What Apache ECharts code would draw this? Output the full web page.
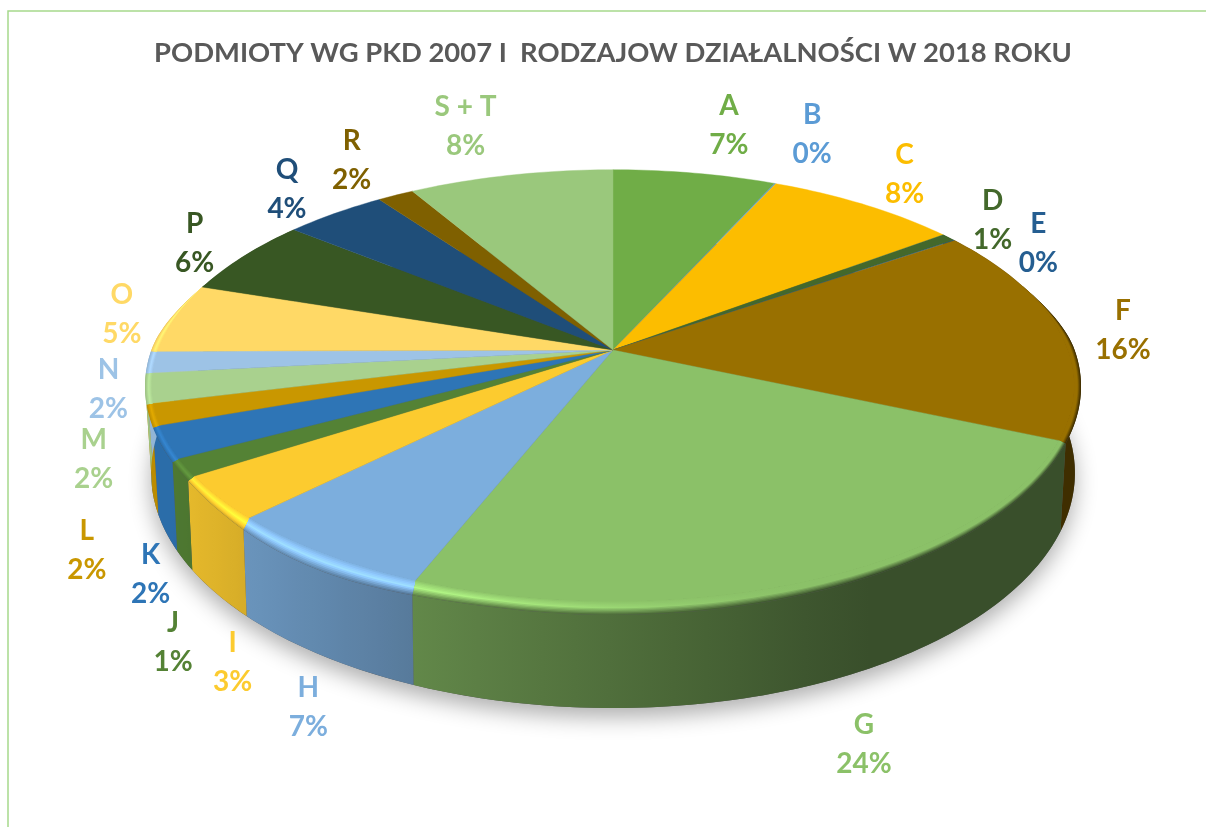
<!DOCTYPE html>
<html><head><meta charset="utf-8">
<style>html,body{margin:0;padding:0;background:#fff;overflow:hidden}#c{width:1206px;height:827px}</style>
<script src="https://cdn.jsdelivr.net/npm/echarts@6/dist/echarts.min.js"></script>
</head><body><div id="c"></div>
<script>
// ---- data ----
const categories = ['A','B','C','D','E','F','G','H','I','J','K','L','M','N','O','P','Q','R','S + T'];
const shares     = [6.7,0.05,7.95,0.6,0.05,16.25,24.4,6.5,3.3,1.3,2.4,1.6,2.2,1.6,5.2,5.8,4.2,1.5,8.4];
const colors     = ['#70AD47','#5B9BD5','#FCBD00','#43682B','#255E91','#997000','#8BC168','#7CAEDD','#FCCB2F','#548235','#2E75B6','#C99700','#A9D18E','#9DC3E6','#FFD966','#385723','#1F4E79','#7F6000','#9AC87C'];
const titleText  = 'PODMIOTY WG PKD 2007 I  RODZAJOW DZIAŁALNOŚCI W 2018 ROKU';
// label nudges away from the slice's outer edge (Excel-style manual placement)
const labelNudge = [[34,-48],[37,-49],[40,-30],[44,-17],[84,3],[64,0],[47,165],[-15,154],[14,165],[-13,175],[-17,132],[-69,136],[-58,72],[-46,27],[-53,-4],[-49,-13],[-48,-24],[-44,-35],[-45,-49]];

// ---- perspective geometry of the disc ----
const cx = 613;
const FACE = {y0:350,   a:455,   b:210,   k:0.165};
const RIM  = {y0:350,   a:461.6, b:214.6, k:0.19, kx:0.165, taper:0.35};
const BASE = {y0:432.5, a:455,   b:228,   k:0.1724};
function proj(g, th){
  const u=Math.sin(th), v=Math.cos(th), d=1+g.k*v, dx=1+(g.kx||g.k)*v;
  const x=cx+g.a*u/dx; let y=g.y0-g.b*v/d;
  if(!g.taper) return [x,y];
  // the bevel is a little deeper on the near-left part of the disc
  const off=(th*180/Math.PI-215)/24;
  if(Math.abs(off)<1) y+=7*Math.pow(Math.cos(off*Math.PI/2),2);
  // the bevel only opens up on the near side of the disc
  const f=proj(FACE,th), s=Math.min(1,Math.max(0,(g.taper-v)/g.taper)), w=s*s*(3-2*s);
  return [f[0]+(x-f[0])*w, f[1]+(y-f[1])*w];
}
const total = shares.reduce((s,v)=>s+v,0);
const cum=[0]; shares.forEach((v,i)=>cum.push(cum[i]+v));
const ang = i => cum[i]/total*2*Math.PI;
function arc(g,i,rev){
  const a=ang(i), b=ang(i+1), n=Math.max(2,Math.ceil((b-a)/0.02)), pts=[];
  for(let j=0;j<=n;j++) pts.push(proj(g,a+(b-a)*j/n));
  return rev?pts.reverse():pts;
}
function lerpArc(i,t){
  const f=arc(FACE,i), r=arc(RIM,i);
  return f.map((p,j)=>[p[0]+(r[j][0]-p[0])*t, p[1]+(r[j][1]-p[1])*t]);
}
// ---- shading as a function of horizontal position ----
function pl(tbl,x){
  if(x<=tbl[0][0]) return tbl[0][1];
  for(let i=1;i<tbl.length;i++) if(x<=tbl[i][0]){
    const s=(x-tbl[i-1][0])/(tbl[i][0]-tbl[i-1][0]);
    return tbl[i-1][1]+(tbl[i][1]-tbl[i-1][1])*s;
  }
  return tbl[tbl.length-1][1];
}
const WALL=[[170,.93],[245,.85],[415,.70],[600,.58],[800,.45],[860,.41]];
const GLOW=[[150,1.12],[250,1.28],[430,1.28],[650,1.08],[780,1.0]];
function rgb(h){return [1,3,5].map(i=>parseInt(h.substr(i,2),16));}
function mul(c,f){return 'rgb('+c.map(v=>Math.min(255,Math.round(v*f))).join(',')+')';}
function gradient(pts,fn){
  let lo=Infinity,hi=-Infinity; pts.forEach(p=>{lo=Math.min(lo,p[0]);hi=Math.max(hi,p[0]);});
  const stops=[]; const n=10;
  for(let j=0;j<=n;j++) stops.push({offset:j/n,color:fn(lo+(hi-lo)*j/n)});
  return new echarts.graphic.LinearGradient(0,0,1,0,stops);
}
const rimLevel=(x,t)=>{ // multiplier across the bevel, t: 0 face .. 1 rim
  const g=pl(GLOW,x), w=pl(WALL,x);
  return t<=.5 ? 1+(g-1)*t/.5 : g+(w-g)*(t-.5)/.5;
};
// ---- render items ----
function wallItem(p){
  const i=p.dataIndex, c=rgb(colors[i]);
  if(ang(i+1)<Math.PI*0.3||ang(i)>Math.PI*1.7) return {type:'group',children:[]};
  const pts=arc(RIM,i).concat(arc(BASE,i,true));
  return {type:'polygon',shape:{points:pts},style:{fill:gradient(pts,x=>mul(c,pl(WALL,x)))},silent:true};
}
function rimItem(p){
  const i=p.dataIndex, c=rgb(colors[i]), kids=[], inner=arc(FACE,i,true);
  [1,.9,.8,.7,.6,.5,.4,.3,.2,.1].forEach(t=>{
    const pts=lerpArc(i,t).concat(inner);
    kids.push({type:'polygon',shape:{points:pts},style:{fill:gradient(pts,x=>mul(c,rimLevel(x,t)))},silent:true});
  });
  return {type:'group',children:kids};
}
function faceItem(p){
  const i=p.dataIndex;
  const pts=[[cx,FACE.y0]].concat(arc(FACE,i));
  return {type:'polygon',shape:{points:pts},style:{fill:colors[i],stroke:colors[i],lineWidth:.4},silent:true};
}
function labelItem(p){
  const i=p.dataIndex, e=proj(FACE,(ang(i)+ang(i+1))/2), n=labelNudge[i];
  return {type:'text',silent:true,style:{
    text:categories[i]+'\n'+Math.round(shares[i])+'%',
    x:e[0]+n[0],y:e[1]+n[1],fill:colors[i],align:'center',verticalAlign:'middle',
    font:'bold 28px Lato',lineHeight:39}};
}
function shadowItem(){
  const pts=[]; for(let j=0;j<180;j++) pts.push(proj(BASE,j/180*2*Math.PI));
  return {type:'polygon',shape:{points:pts},silent:true,style:{fill:'#555',shadowBlur:22,shadowColor:'rgba(0,0,0,.32)',shadowOffsetY:9}};
}
const data=categories.map((n,i)=>({name:n,value:shares[i]}));
const mk=(name,fn,d)=>({type:'custom',name,coordinateSystem:'none',renderItem:fn,data:d||data,animation:false,silent:true});
const chart=echarts.init(document.getElementById('c'),null,{renderer:'canvas'});
chart.setOption({
  animation:false,
  backgroundColor:'#fff',
  title:{text:titleText,left:613,top:40,padding:0,textAlign:'center',textStyle:{fontFamily:'Lato',fontWeight:'bold',fontSize:27.4,color:'#595959'}},
  graphic:[{type:'rect',silent:true,z:-1,shape:{x:8,y:11,width:1400,height:1000},style:{fill:'none',stroke:'#A6D98C',lineWidth:1.5}}],
  series:[mk('shadow',shadowItem,[{name:'shadow',value:1}]),mk('wall',wallItem),mk('rim',rimItem),mk('face',faceItem),mk('labels',labelItem)]
});
</script></body></html>
